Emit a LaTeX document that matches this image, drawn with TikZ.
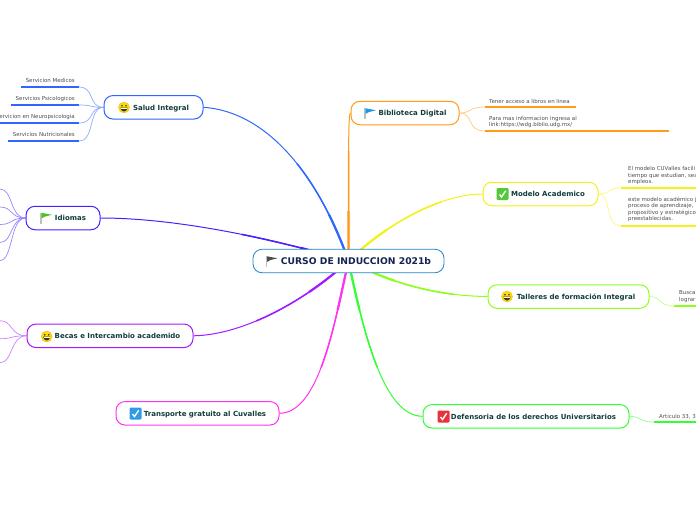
\documentclass[tikz,border=0pt]{standalone}
\usepackage{fontspec}
\setmainfont{DejaVu Sans}
\usetikzlibrary{backgrounds}

\definecolor{rootblue}{HTML}{1F86C8}
\definecolor{rootink}{HTML}{14234F}
\definecolor{topicink}{HTML}{0F3D3A}
\definecolor{saludc}{HTML}{2E66FF}
\definecolor{idiomasc}{HTML}{4A1EFF}
\definecolor{becasc}{HTML}{A21AFF}
\definecolor{transportec}{HTML}{FF33F0}
\definecolor{bibliotecac}{HTML}{FF9A1A}
\definecolor{modeloc}{HTML}{F2F21A}
\definecolor{talleresc}{HTML}{8CFF1A}
\definecolor{defensoriac}{HTML}{33FF33}

\tikzset{
    topic/.style={draw=#1, fill=white, rounded corners=9pt, line width=1pt, minimum height=23.5pt,
        inner sep=0pt, text height=5.6pt, text depth=0pt, text=topicink, font=\bfseries\fontsize{7}{8}\selectfont},
    rootnode/.style={topic=rootblue, line width=0.8pt, text=rootink, text height=6.7pt,
        font=\bfseries\fontsize{9.2}{10}\selectfont},
    leaftext/.style={inner sep=0pt, text=black!70, align=left, font=\fontsize{5.45}{6.5}\selectfont},
    branch/.style={draw=#1},
    twig/.style={draw=#1!55, line width=0.7pt},
    leafline/.style={draw=#1, line width=1.8pt},
    pics/smiley/.style={code={
        \fill[yellow!80!orange] (0,0) circle (5.5);
        \draw[orange!70!yellow, line width=0.3pt] (0,0) circle (5.5);
        \fill[black!80] (-2,-1.7) circle (0.9) (2,-1.7) circle (0.9);
        \fill[black!80] (-3.6,0) arc (180:0:3.6 and 4) -- cycle;
        \fill[white] (-2.8,0.6) rectangle (2.8,1.8);
    }},
    pics/flagicon/.style={code={
        \fill[black!25] (-0.6,-5.5) rectangle (0.6,5.5);
        \fill[#1] (0.5,-5.2) -- (11,-3.2) -- (4,-1.5) -- (0.5,0.5) -- cycle;
    }},
    pics/checkicon/.style={code={
        \fill[#1, rounded corners=1.2pt] (-6,-6) rectangle (6,6);
        \draw[white, line width=1.4pt] (-3,0.5) -- (-1,3) -- (3.2,-3.2);
    }}
}

\definecolor{flaggreen}{HTML}{4CC21A}
\definecolor{flagblue}{HTML}{1A96E6}
\definecolor{checkblue}{HTML}{2E9AE8}
\definecolor{checkgreen}{HTML}{55C83A}
\definecolor{checkred}{HTML}{E8333C}

\begin{document}
\begin{tikzpicture}[x=1pt, y=-1pt]
    \clip (0,0) rectangle (696,520);

    % Root
    \node[rootnode, minimum width=191pt] (root) at (348.5,261) {\hspace{15pt}CURSO DE INDUCCION 2021b};
    \pic at (266.5,261.5) {flagicon=black!70};

    % Topics
    \node[topic=saludc, minimum width=99pt] (salud) at (153.5,107.3) {\hspace{15pt}Salud Integral};
    \node[topic=idiomasc, minimum width=74pt] (idiomas) at (63,218) {\hspace{15pt}Idiomas};
    \node[topic=becasc, minimum width=166pt] (becas) at (110,335.8) {\hspace{15pt}Becas e Intercambio academido};
    \node[topic=transportec, minimum width=163pt] (transporte) at (197.5,413.3) {\hspace{15pt}Transporte gratuito al Cuvalles};
    \node[topic=bibliotecac, minimum width=108pt] (biblioteca) at (405,113) {\hspace{15pt}Biblioteca Digital};
    \node[topic=modeloc, minimum width=115pt] (modelo) at (540.5,194) {\hspace{15pt}Modelo Academico};
    \node[topic=talleresc, minimum width=161pt] (talleres) at (568.5,296.5) {\hspace{15pt}Talleres de formación Integral};
    \node[topic=defensoriac, minimum width=206pt] (defensoria) at (526,416.3) {\hspace{15pt}Defensoria de los derechos Universitarios};

    % Icons
    \pic at (124,107.5) {smiley};
    \pic at (41,218) {flagicon=flaggreen};
    \pic at (46.7,336.5) {smiley};
    \pic at (135.5,413.5) {checkicon=checkblue};
    \pic at (365,113.5) {flagicon=flagblue};
    \pic at (502.5,194) {checkicon=checkgreen};
    \pic at (507,296.5) {smiley};
    \pic at (443.5,416.5) {checkicon=checkred};

    % Leaf labels, left side
    \node[leaftext, anchor=east] (medicos) at (75,80.5) {Servicion Medicos};
    \node[leaftext, anchor=east] (psico) at (75,98.5) {Servicios Psicologicos};
    \node[leaftext, anchor=east] (neuro) at (75,116.5) {Servicion en Neuropsicologia};
    \node[leaftext, anchor=east] (nutri) at (75,134.5) {Servicios Nutricionales};

    % Leaf labels, right side
    \node[leaftext, anchor=west] (libros) at (489,101) {Tener acceso a libros en linea};
    \node[leaftext, anchor=west] (link) at (489,122) {Para mas informacion ingresa al\\link:https://wdg.biblio.udg.mx/};
    \node[leaftext, anchor=west] (cuvalles) at (628,175.5) {El modelo CUValles facili\\tiempo que estudian, sea\\empleos.};
    \node[leaftext, anchor=west] (academico) at (628,209.5) {este modelo académico j\\proceso de aprendizaje,\\propositivo y estratégico\\preestablecidas.};
    \node[leaftext, anchor=west] (busca) at (679,296.5) {Busca\\lograr};
    \node[leaftext, anchor=west] (articulo) at (659,417) {Articulo 33, 3};

    % Free ends of the leaf lines
    \coordinate (medicosL) at (21,87);
    \coordinate (medicosR) at (79,87);
    \coordinate (psicoL) at (11,105);
    \coordinate (psicoR) at (79,105);
    \coordinate (neuroL) at (-1,123);
    \coordinate (neuroR) at (79,123);
    \coordinate (nutriL) at (8,141);
    \coordinate (nutriR) at (79,141);
    \coordinate (librosL) at (485,107);
    \coordinate (librosR) at (576,107);
    \coordinate (linkL) at (485,131);
    \coordinate (linkR) at (669,131);
    \coordinate (cuvallesL) at (621,188);
    \coordinate (cuvallesR) at (697,188);
    \coordinate (academicoL) at (621,226);
    \coordinate (academicoR) at (697,226);
    \coordinate (buscaL) at (674,306);
    \coordinate (buscaR) at (697,306);
    \coordinate (articuloL) at (654,422);
    \coordinate (articuloR) at (697,422);

    \begin{scope}[on background layer]
        % Branches from the root, heavier close to it
        \foreach \rad/\wid in {600/1.0, 110/1.5, 50/2.2} {
            \begin{scope}[line width=\wid pt]
                \clip (root.center) circle (\rad);
                \draw[branch=saludc] (salud.east) .. controls (270,112) and (320,180) .. (root.center);
                \draw[branch=idiomasc] (idiomas.east) .. controls (170,218) and (260,235) .. (root.center);
                \draw[branch=becasc] (becas.east) .. controls (240,335) and (300,305) .. (root.center);
                \draw[branch=transportec] (transporte.east) .. controls (320,413) and (335,320) .. (root.center);
                \draw[branch=bibliotecac] (biblioteca.west) .. controls (349,114) and (349,125) .. (348.5,150) -- (root.center);
                \draw[branch=modeloc] (modelo.west) .. controls (440,194) and (385,225) .. (root.center);
                \draw[branch=talleresc] (talleres.west) .. controls (440,296) and (395,285) .. (root.center);
                \draw[branch=defensoriac] (defensoria.west) .. controls (385,416) and (365,340) .. (root.center);
            \end{scope}
        }

        % Twigs on the left
        \foreach \name in {medicos, psico, neuro, nutri}
            \draw[twig=saludc] (\name R) .. controls (95,87 |- \name R) and (88,107.5) .. (salud.west);
        \foreach \name in {medicos, psico, neuro, nutri}
            \draw[leafline=saludc] (\name L) -- (\name R);
        \foreach \y in {189, 207, 224.5, 242.5, 260.5}
            \draw[twig=idiomasc] (0,\y) .. controls (13,\y) and (10,218) .. (idiomas.west);
        \foreach \y in {320.7, 338.7, 362.7}
            \draw[twig=becasc] (0,\y) .. controls (13,\y) and (10,335.8) .. (becas.west);

        % Twigs on the right
        \draw[twig=bibliotecac] (biblioteca.east) .. controls (472,113) and (468,107) .. (librosL);
        \draw[twig=bibliotecac] (biblioteca.east) .. controls (474,113) and (466,131) .. (linkL);
        \draw[twig=modeloc] (modelo.east) .. controls (611,194) and (607,188) .. (cuvallesL);
        \draw[twig=modeloc] (modelo.east) .. controls (612,194) and (604,226) .. (academicoL);
        \draw[twig=talleresc] (talleres.east) .. controls (662,296.5) and (658,306) .. (buscaL);
        \draw[twig=defensoriac] (defensoria.east) .. controls (642,416.3) and (638,422) .. (articuloL);
        \foreach \name/\col in {libros/bibliotecac, link/bibliotecac, cuvalles/modeloc, academico/modeloc, busca/talleresc, articulo/defensoriac}
            \draw[leafline=\col] (\name L) -- (\name R);
    \end{scope}
\end{tikzpicture}
\end{document}
